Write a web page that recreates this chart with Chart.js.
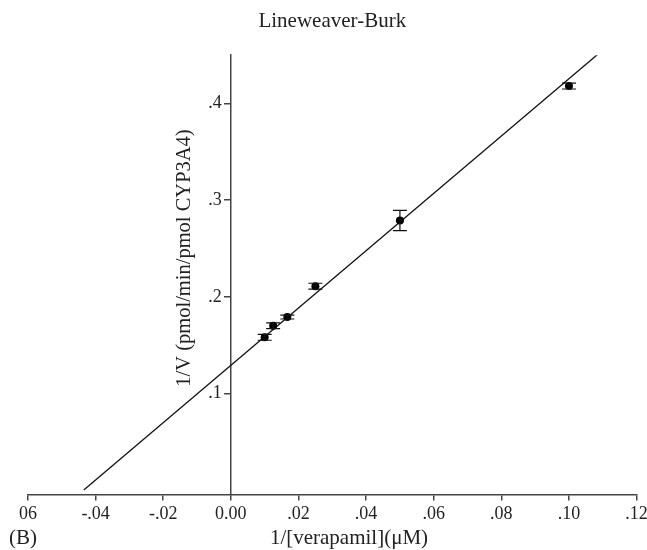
<!DOCTYPE html>
<html lang="en">
<head>
    <meta charset="utf-8" />
    <title>Lineweaver-Burk</title>
    <style>
        body { margin: 0; background: #fff; }
    </style>
</head>
<body>
    <canvas id="lbChart" width="647" height="550"></canvas>

    <script src="https://cdn.jsdelivr.net/npm/chart.js@4/dist/chart.umd.min.js"></script>
    <script type="text/javascript">
        // measured points (1/[S], 1/V) with error
        const invSubstrate = [0.01, 0.0125, 0.0167, 0.025, 0.05, 0.1];
        const invVelocity = [0.158, 0.170, 0.179, 0.211, 0.279, 0.418];
        const velocityErr = [0.003, 0.003, 0.002, 0.003, 0.0105, 0.003];

        // fitted line, end points
        const fitX = [-0.0435, 0.12];
        const fitY = [0, 0.485];

        const xTickValues = [-0.06, -0.04, -0.02, 0, 0.02, 0.04, 0.06, 0.08, 0.10, 0.12];
        const xTickLabels = ['06', '-.04', '-.02', '0.00', '.02', '.04', '.06', '.08', '.10', '.12'];
        const yTickValues = [0.1, 0.2, 0.3, 0.4];
        const yTickLabels = ['.1', '.2', '.3', '.4'];

        const FONT = "'Liberation Serif', 'Times New Roman', serif";
        Chart.defaults.font.family = FONT;
        Chart.defaults.font.size = 18;
        Chart.defaults.color = '#222';

        const extras = {
            id: 'extras',
            afterDatasetsDraw(chart) {
                const ctx = chart.ctx;
                const xs = chart.scales.x, ys = chart.scales.y;
                ctx.save();
                ctx.strokeStyle = '#111';
                ctx.lineWidth = 1.2;
                invSubstrate.forEach((v, i) => {
                    const px = xs.getPixelForValue(v);
                    const top = ys.getPixelForValue(invVelocity[i] + velocityErr[i]);
                    const bot = ys.getPixelForValue(invVelocity[i] - velocityErr[i]);
                    ctx.beginPath();
                    ctx.moveTo(px, top); ctx.lineTo(px, bot);
                    ctx.moveTo(px - 7, top); ctx.lineTo(px + 7, top);
                    ctx.moveTo(px - 7, bot); ctx.lineTo(px + 7, bot);
                    ctx.stroke();
                });
                ctx.restore();
            },
            afterDraw(chart) {
                const ctx = chart.ctx;
                ctx.save();
                ctx.fillStyle = '#222';
                ctx.textBaseline = 'middle';

                // x title + panel letter
                ctx.font = '21px ' + FONT;
                ctx.textAlign = 'center';
                ctx.fillText('1/[verapamil](\u03bcM)', 349, 538);
                ctx.textAlign = 'left';
                ctx.fillText('(B)', 9, 538);

                // y title, reads bottom to top
                ctx.translate(185, 258);
                ctx.rotate(-Math.PI / 2);
                ctx.font = '20.5px ' + FONT;
                ctx.textAlign = 'center';
                ctx.fillText('1/V (pmol/min/pmol CYP3A4)', 0, 0);
                ctx.restore();
            }
        };

        new Chart(document.getElementById('lbChart').getContext('2d'), {
            type: 'scatter',
            data: {
                datasets: [
                    {
                        label: 'data',
                        data: invSubstrate.map((x, i) => ({ x: x, y: invVelocity[i] })),
                        pointRadius: 4,
                        pointBackgroundColor: '#000',
                        pointBorderWidth: 0,
                        showLine: false,
                    },
                    {
                        label: 'fit',
                        data: fitX.map((x, i) => ({ x: x, y: fitY[i] })),
                        showLine: true,
                        pointRadius: 0,
                        borderColor: '#111',
                        borderWidth: 1.3,
                    }
                ]
            },
            options: {
                responsive: false,
                animation: false,
                layout: { padding: { left: 28, right: 10.4, top: 0, bottom: 22 } },
                plugins: {
                    legend: { display: false },
                    tooltip: { enabled: false },
                    title: {
                        display: true,
                        text: 'Lineweaver-Burk',
                        font: { size: 21, weight: 'normal' },
                        color: '#222',
                        padding: { top: 9, bottom: 21 }
                    }
                },
                scales: {
                    x: {
                        type: 'linear',
                        position: 'bottom',
                        min: -0.06,
                        max: 0.12,
                        afterBuildTicks: (axis) => { axis.ticks = xTickValues.map(v => ({ value: v })); },
                        // let the end labels run into the margin like the original
                        afterFit: (axis) => { axis.paddingLeft = 0; axis.paddingRight = 0; },
                        ticks: {
                            padding: 3,
                            maxRotation: 0,
                            autoSkip: false,
                            callback: (value) => {
                                const i = xTickValues.findIndex(t => Math.abs(t - value) < 1e-9);
                                return i >= 0 ? xTickLabels[i] : '';
                            }
                        },
                        grid: { drawOnChartArea: false, drawTicks: true, tickLength: 6, color: '#444', lineWidth: 1.5 },
                        border: { display: true, color: '#444', width: 1.5 },
                        title: { display: false }
                    },
                    y: {
                        type: 'linear',
                        position: { x: 0 },
                        min: -0.0045,
                        max: 0.45,
                        afterBuildTicks: (axis) => { axis.ticks = yTickValues.map(v => ({ value: v })); },
                        ticks: {
                            autoSkip: false,
                            // centred axis puts labels on the line, trailing spaces push them clear of the tick marks
                            callback: (value) => {
                                const i = yTickValues.findIndex(t => Math.abs(t - value) < 1e-9);
                                return i >= 0 ? yTickLabels[i] + '  ' : '';
                            }
                        },
                        grid: { drawOnChartArea: false, drawTicks: true, tickLength: 6, color: '#444', lineWidth: 1.5 },
                        border: { display: true, color: '#444', width: 1.5 },
                        title: { display: false }
                    }
                }
            },
            plugins: [extras]
        });
    </script>
</body>
</html>
